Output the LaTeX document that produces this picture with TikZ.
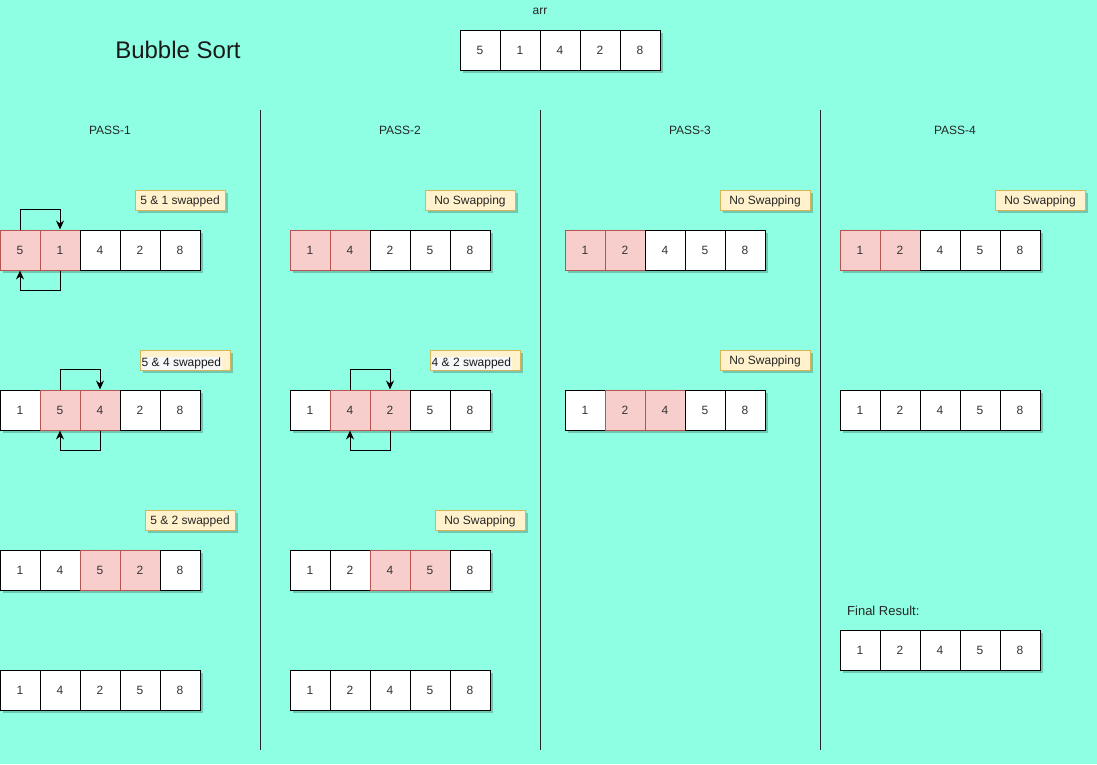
\documentclass[tikz,border=0pt]{standalone}
\usepackage{fontspec}
\setmainfont{Liberation Sans}
\usetikzlibrary{arrows.meta,shadows}
\definecolor{bgc}{HTML}{8FFFE3}
\definecolor{redfill}{HTML}{F8CECC}
\definecolor{redline}{HTML}{B85450}
\definecolor{yelfill}{HTML}{FFF2CC}
\definecolor{yelline}{HTML}{D6B656}
\definecolor{hlbg}{HTML}{F7F8FA}
\tikzset{
  shad/.style={drop shadow={shadow xshift=2.5pt,shadow yshift=-2.5pt,opacity=0.3,fill=black!70!bgc}},
  cell/.style={rectangle,draw=black,line width=1pt,fill=white,minimum size=40pt,inner sep=0pt,text height=8.6pt,text depth=0pt,font=\fontsize{12}{14}\selectfont,text=black!80,shad},
  hl/.style={fill=redfill,draw=redline},
  n/.style={},
  note/.style={rectangle,draw=yelline,line width=1pt,fill=yelfill,minimum height=20pt,inner sep=0pt,text height=8.6pt,text depth=0pt,font=\fontsize{12}{14}\selectfont,text=black!85,shad},
  plain/.style={font=\fontsize{12}{14}\selectfont,text=black!85,inner sep=0pt},
  swapar/.style={draw=black,line width=1pt,-{Stealth[length=9pt,width=8pt]}},
  divider/.style={draw=black!85,line width=1pt}
}
\newcommand\cellrow[4]{%
  \foreach \v/\s [count=\i] in {#4} {%
    \node[cell,\s] (#1-\i) at ({#2+40*\i-20},{#3+20}) {\v};}}
\begin{document}
\begin{tikzpicture}[x=1pt,y=-1pt]
\fill[bgc] (0,0) rectangle (1097,764);
\useasboundingbox (0,0) rectangle (1097,764);

% title and original array
\node[font=\fontsize{24}{28}\selectfont,text=black!90,inner sep=0pt] (title) at (178,50) {Bubble Sort};
\node[plain] (arrlbl) at (540,11) {arr};
\cellrow{arr}{460}{30}{5/n,1/n,4/n,2/n,8/n}

% dividers
\coordinate (d1t) at (260,110); \coordinate (d1b) at (260,750);
\coordinate (d2t) at (540,110); \coordinate (d2b) at (540,750);
\coordinate (d3t) at (820,110); \coordinate (d3b) at (820,750);
\draw[divider] (d1t) -- (d1b);
\draw[divider] (d2t) -- (d2b);
\draw[divider] (d3t) -- (d3b);

% pass headers
\node[plain] (p1) at (110,130) {PASS-1};
\node[plain] (p2) at (400,130) {PASS-2};
\node[plain] (p3) at (690,130) {PASS-3};
\node[plain] (p4) at (955,130) {PASS-4};

% PASS-1
\node[note,minimum width=90pt] (n11) at (180,200) {5 \& 1 swapped};
\cellrow{a}{0}{230}{5/hl,1/hl,4/n,2/n,8/n}
\draw[swapar] (a-1.north) -- ++(0,-20) -| (a-2.north);
\draw[swapar] (a-2.south) -- ++(0,20) -| (a-1.south);

\node[note,minimum width=90pt] (n12) at (185,360.5) {};
\node[fill=hlbg,inner sep=0.5pt,anchor=west,font=\fontsize{12}{14}\selectfont,text=black!90] (n12t) at (141,363.5) {5 \& 4 swapped};
\cellrow{b}{0}{390}{1/n,5/hl,4/hl,2/n,8/n}
\draw[swapar] (b-2.north) -- ++(0,-20) -| (b-3.north);
\draw[swapar] (b-3.south) -- ++(0,20) -| (b-2.south);

\node[note,minimum width=90pt] (n13) at (190,520.5) {5 \& 2 swapped};
\cellrow{c}{0}{550}{1/n,4/n,5/hl,2/hl,8/n}

\cellrow{d}{0}{670}{1/n,4/n,2/n,5/n,8/n}

% PASS-2
\node[note,minimum width=90pt] (n21) at (470,200) {No Swapping};
\cellrow{e}{290}{230}{1/hl,4/hl,2/n,5/n,8/n}

\node[note,minimum width=90pt] (n22) at (475,360.5) {};
\node[fill=hlbg,inner sep=0.5pt,anchor=west,font=\fontsize{12}{14}\selectfont,text=black!90] (n22t) at (431,363.5) {4 \& 2 swapped};
\cellrow{f}{290}{390}{1/n,4/hl,2/hl,5/n,8/n}
\draw[swapar] (f-2.north) -- ++(0,-20) -| (f-3.north);
\draw[swapar] (f-3.south) -- ++(0,20) -| (f-2.south);

\node[note,minimum width=90pt] (n23) at (480,520.5) {No Swapping};
\cellrow{g}{290}{550}{1/n,2/n,4/hl,5/hl,8/n}

\cellrow{h}{290}{670}{1/n,2/n,4/n,5/n,8/n}

% PASS-3
\node[note,minimum width=90pt] (n31) at (765,200) {No Swapping};
\cellrow{i}{565}{230}{1/hl,2/hl,4/n,5/n,8/n}

\node[note,minimum width=90pt] (n32) at (765,360) {No Swapping};
\cellrow{j}{565}{390}{1/n,2/hl,4/hl,5/n,8/n}

% PASS-4
\node[note,minimum width=90pt] (n41) at (1040,200) {No Swapping};
\cellrow{k}{840}{230}{1/hl,2/hl,4/n,5/n,8/n}

\cellrow{l}{840}{390}{1/n,2/n,4/n,5/n,8/n}

\node[font=\fontsize{13}{15}\selectfont,text=black!85,inner sep=0pt,anchor=west] (final) at (847,611) {Final Result:};
\cellrow{m}{840}{630}{1/n,2/n,4/n,5/n,8/n}
\end{tikzpicture}
\end{document}
